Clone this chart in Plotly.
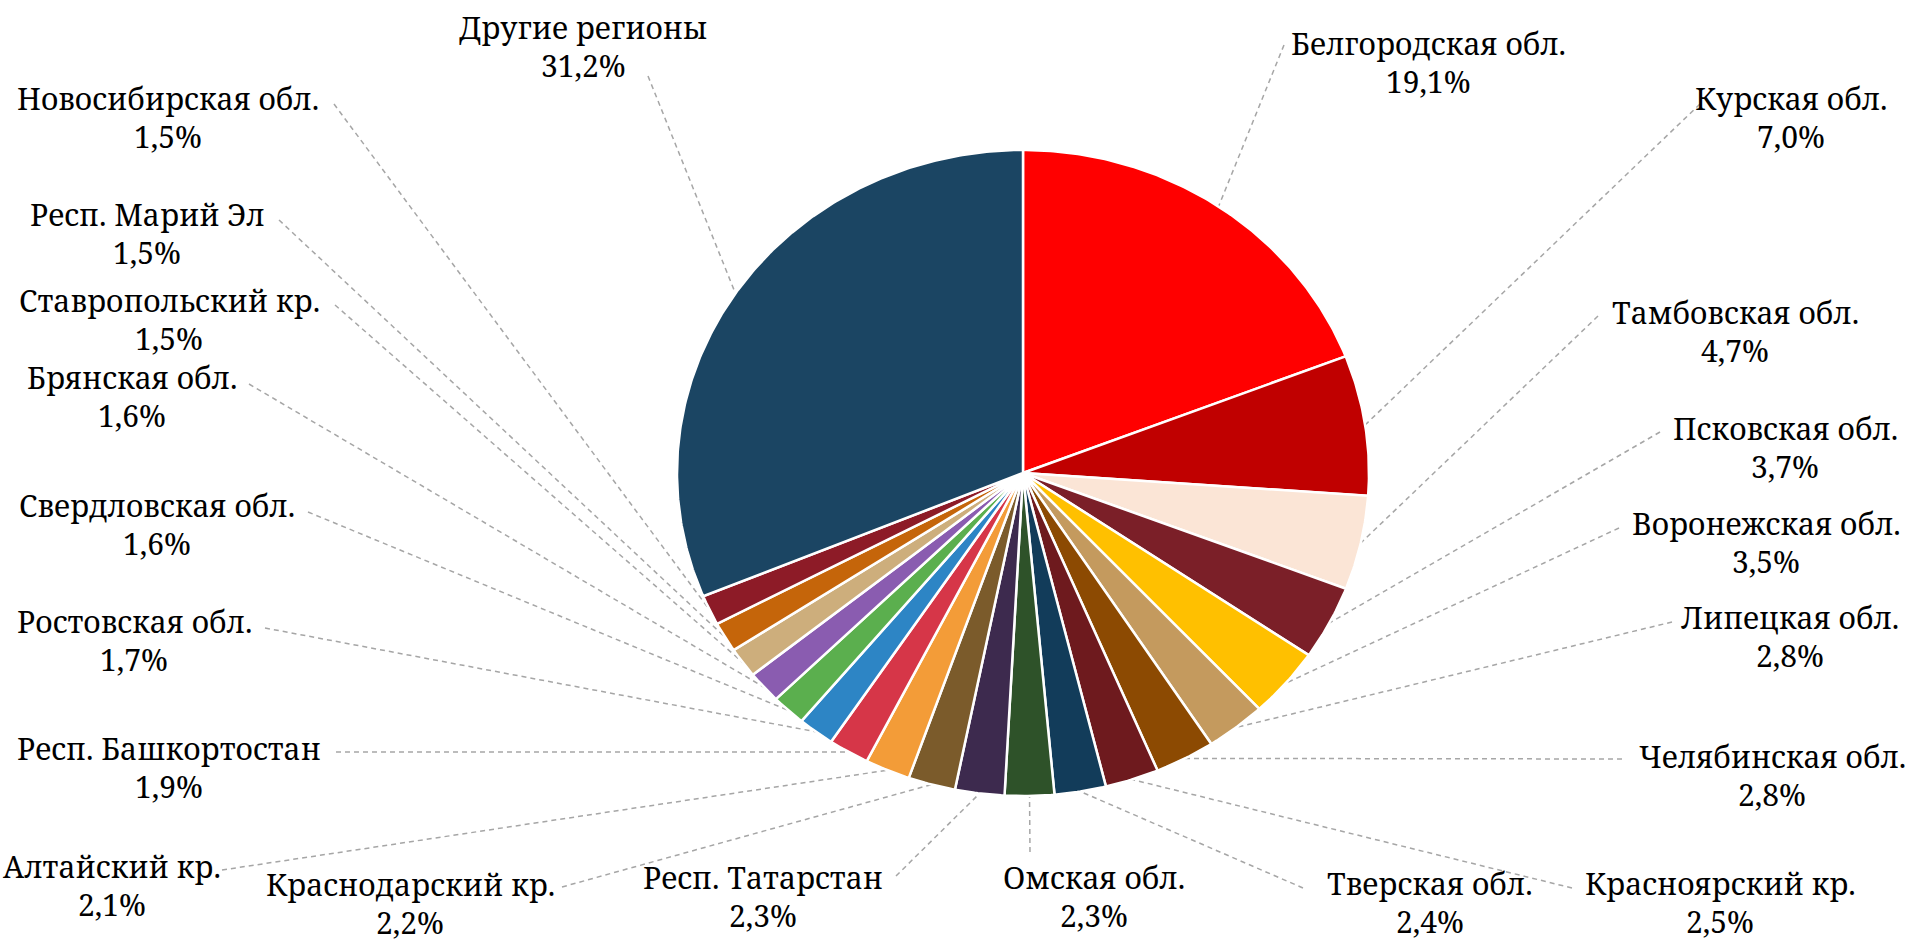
import numpy as np
import plotly.graph_objects as go

# ---------------- data ----------------
regions = ["Белгородская обл.", "Курская обл.", "Тамбовская обл.", "Псковская обл.",
           "Воронежская обл.", "Липецкая обл.", "Челябинская обл.", "Красноярский кр.",
           "Тверская обл.", "Омская обл.", "Респ. Татарстан", "Краснодарский кр.",
           "Алтайский кр.", "Респ. Башкортостан", "Ростовская обл.", "Свердловская обл.",
           "Брянская обл.", "Ставропольский кр.", "Респ. Марий Эл", "Новосибирская обл.",
           "Другие регионы"]
shares = [19.1, 7.0, 4.7, 3.7, 3.5, 2.8, 2.8, 2.5, 2.4, 2.3, 2.3, 2.2, 2.1, 1.9,
          1.7, 1.6, 1.6, 1.5, 1.5, 1.5, 31.2]

# ---------------- styles ----------------
colors = ["#FF0000", "#C00000", "#FBE5D6", "#7B1F28", "#FFC000", "#C49A5E", "#8C4A02",
          "#6E1A1E", "#123C5A", "#2E5229", "#3D2A4E", "#7B5B2B", "#F39C38", "#D63648",
          "#2D85C5", "#5BAF4E", "#8A5CB0", "#CDAE7C", "#C5650A", "#8D1B27", "#1B4563"]

# label layout in pixels: centre x of the text block, centre y of its first line
label_cx = [1428, 1791, 1735, 1785, 1766, 1790, 1772, 1720, 1430, 1094,
            763, 410, 112, 169, 134, 157, 132, 169, 147, 168, 583]
label_y = [43, 98, 312, 428, 523, 617, 756, 883, 883, 877,
           877, 884, 866, 748, 621, 505, 377, 300, 214, 98, 27]
# where each leader line meets its label
attach_x = [1284, 1700, 1598, 1660, 1619, 1672, 1622, 1572, 1303, 1030,
            896, 562, 222, 336, 265, 308, 249, 335, 279, 334, 648]
attach_y = [45, 104, 316, 432, 528, 622, 759, 888, 888, 852,
            876, 887, 870, 752, 628, 512, 384, 305, 220, 104, 76]

W, H = 1917, 944
CX, CY, RX, RY = 1023, 473, 346, 323
FS = 30
LINE = 38
FONT = "Noto Serif"

vals = np.array(shares, dtype=float)
frac = vals / vals.sum()
ends = np.cumsum(frac) * 2 * np.pi
starts = ends - frac * 2 * np.pi
mids = (starts + ends) / 2

fig = go.Figure()

# leader lines: slice mid-angle point on the rim -> label
lx, ly = [], []
for i in range(len(regions)):
    ex = CX + RX * np.sin(mids[i])
    ey = CY - RY * np.cos(mids[i])
    lx += [attach_x[i], ex, None]
    ly += [attach_y[i], ey, None]
fig.add_trace(go.Scatter(x=lx, y=ly, mode="lines",
                         line=dict(color="#A6A6A6", width=1.5, dash="5px,4px"),
                         hoverinfo="skip", showlegend=False))

# slices
for i, name in enumerate(regions):
    t = np.linspace(starts[i], ends[i], max(8, int(frac[i] * 720)))
    xs = np.concatenate([[CX], CX + RX * np.sin(t), [CX]])
    ys = np.concatenate([[CY], CY - RY * np.cos(t), [CY]])
    fig.add_trace(go.Scatter(x=xs, y=ys, mode="lines", fill="toself",
                             fillcolor=colors[i], line=dict(color="white", width=2.5),
                             hoverinfo="text", text=f"{name}: {shares[i]}%",
                             showlegend=False))

# labels: name and value as two centred lines
for i, name in enumerate(regions):
    pct = f"{shares[i]:.1f}".replace(".", ",") + "%"
    for txt, yy in ((name, label_y[i]), (pct, label_y[i] + LINE)):
        fig.add_annotation(x=label_cx[i], y=yy, xref="x", yref="y", text=txt,
                           showarrow=False, xanchor="center", yanchor="middle",
                           borderpad=0,
                           font=dict(family=FONT, size=FS, color="#000000"))

fig.update_layout(width=W, height=H, margin=dict(l=0, r=0, t=0, b=0),
                  font=dict(family=FONT),
                  plot_bgcolor="white", paper_bgcolor="white",
                  xaxis=dict(range=[0, W], visible=False, fixedrange=True),
                  yaxis=dict(range=[H, 0], visible=False, fixedrange=True))

fig.write_html("out.html", config={"displayModeBar": False},
               post_script="document.body.style.margin='0';")
